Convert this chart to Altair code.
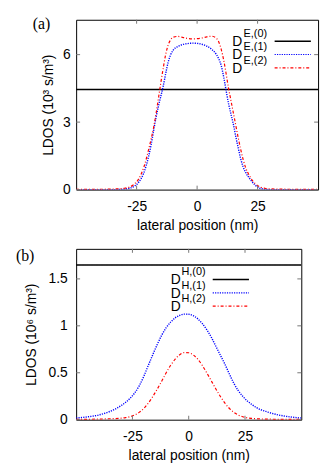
import altair as alt
import pandas as pd

# ---------------- data ----------------
x_a = [-50, -45, -40, -35, -32, -30, -28, -26, -24, -22, -20, -19, -18, -17, -16, -15, -14, -13, -12, -11, -10,
       -8, -6, -4, -2, 0, 2, 4, 6, 8, 9, 10, 11, 12, 13, 14, 15, 16, 17, 18, 19, 20, 22, 24, 26, 28, 30, 35, 40, 45, 50]
DE1 = [0.0, 0.0, 0.0, 0.0, 0.005, 0.02, 0.06, 0.15, 0.35, 0.75, 1.5, 2.0, 2.6, 3.2, 3.7, 4.15, 4.6, 5.15, 5.65, 5.98, 6.18,
       6.36, 6.45, 6.49, 6.51, 6.5, 6.46, 6.38, 6.24, 6.0, 5.8, 5.5, 5.0, 4.4, 3.82, 3.35, 2.9, 2.35, 1.85, 1.38, 1.02, 0.78,
       0.45, 0.2, 0.06, 0.015, 0.0, 0.0, 0.0, 0.0, 0.0]
DE2 = [0.01, 0.01, 0.015, 0.025, 0.04, 0.06, 0.11, 0.24, 0.5, 1.0, 1.8, 2.25, 2.75, 3.35, 4.05, 4.75, 5.4, 6.0, 6.42, 6.65, 6.77,
       6.81, 6.77, 6.72, 6.70, 6.71, 6.74, 6.79, 6.82, 6.72, 6.55, 6.22, 5.75, 5.15, 4.5, 3.95, 3.4, 2.85, 2.3, 1.8, 1.35, 1.0,
       0.55, 0.27, 0.12, 0.06, 0.035, 0.02, 0.015, 0.01, 0.01]
DE0 = 4.45

x_b = [-50, -45, -40, -35, -30, -28, -26, -24, -22, -20, -18, -16, -14, -12, -10, -8, -6, -4, -2, 0,
       2, 4, 6, 8, 10, 12, 14, 16, 18, 20, 22, 24, 26, 28, 30, 35, 40, 45, 50]
DH1 = [0.018, 0.03, 0.05, 0.088, 0.15, 0.185, 0.23, 0.285, 0.36, 0.46, 0.575, 0.69, 0.8, 0.9, 0.98, 1.04, 1.085, 1.112, 1.125, 1.123,
       1.108, 1.075, 1.025, 0.96, 0.88, 0.785, 0.69, 0.595, 0.49, 0.39, 0.31, 0.25, 0.2, 0.162, 0.13, 0.082, 0.05, 0.03, 0.018]
DH2 = [0.003, 0.004, 0.006, 0.01, 0.016, 0.022, 0.032, 0.05, 0.078, 0.118, 0.175, 0.245, 0.325, 0.41, 0.5, 0.58, 0.645, 0.692, 0.715, 0.713,
       0.69, 0.645, 0.58, 0.5, 0.415, 0.33, 0.25, 0.18, 0.122, 0.08, 0.05, 0.032, 0.02, 0.014, 0.01, 0.006, 0.004, 0.003, 0.003]
DH0 = 1.648

x_ends = [-50, 50]
xticks = [-25, 0, 25]
yticks_a = [0, 3, 6]
yticks_b = [0, 0.5, 1, 1.5]

series = ["0", "1", "2"]
colors = ["#000000", "#0000ff", "#ff0000"]
dashes = [[1, 0], [1.2, 1.2], [3, 2, 1, 2]]
widths = [1.6, 1.2, 1.2]

FONT = "Liberation Sans"


def long_df(c0, xs1, s1, s2):
    rows = [{"x": x, "v": c0, "s": "0"} for x in x_ends]
    rows += [{"x": x, "v": v, "s": "1"} for x, v in zip(xs1, s1)]
    rows += [{"x": x, "v": v, "s": "2"} for x, v in zip(xs1, s2)]
    return pd.DataFrame(rows)


def panel(df, W, H, ymax, yticks, ytitle, title_x, ylab_pad, tag, tag_x, tag_y,
          sup, dx_D, dx_S, lx1, lx2, ly0):
    xs = alt.Scale(domain=[-50, 50], nice=False, zero=False)
    ys = alt.Scale(domain=[0, ymax], nice=False, zero=False)
    xax = alt.Axis(values=xticks, title="lateral position (nm)", labelExpr="toString(datum.value)",
                   labelPadding=10, tickSize=0, titleY=40, titleBaseline="alphabetic")
    yax = alt.Axis(values=yticks, title=ytitle, labelExpr="toString(datum.value)",
                   labelPadding=ylab_pad, tickSize=0, titleAngle=270, titleX=title_x, titleY=H / 2,
                   titleBaseline="alphabetic", titleAlign="center")
    lines = alt.Chart(df).mark_line(interpolate="monotone", clip=True).encode(
        x=alt.X("x:Q", scale=xs, axis=xax, title="lateral position (nm)"),
        y=alt.Y("v:Q", scale=ys, axis=yax, title=ytitle),
        color=alt.Color("s:N", scale=alt.Scale(domain=series, range=colors), legend=None),
        strokeDash=alt.StrokeDash("s:N", scale=alt.Scale(domain=series, range=dashes), legend=None),
        strokeWidth=alt.StrokeWidth("s:N", scale=alt.Scale(domain=series, range=widths), legend=None),
    )
    tdx = pd.DataFrame({"x": xticks})
    tdy = pd.DataFrame({"v": yticks})
    tk = dict(color="#777777", strokeWidth=1)
    bt = alt.Chart(tdx).mark_rule(**tk).encode(
        x=alt.X("x:Q", scale=xs, axis=xax, title="lateral position (nm)"), y=alt.value(H), y2=alt.value(H - 4))
    tt = alt.Chart(tdx).mark_rule(**tk).encode(
        x=alt.X("x:Q", scale=xs, axis=xax, title="lateral position (nm)"), y=alt.value(0), y2=alt.value(4))
    lt = alt.Chart(tdy).mark_rule(**tk).encode(
        y=alt.Y("v:Q", scale=ys, axis=yax, title=ytitle), x=alt.value(0), x2=alt.value(4))
    rt = alt.Chart(tdy).mark_rule(**tk).encode(
        y=alt.Y("v:Q", scale=ys, axis=yax, title=ytitle), x=alt.value(W), x2=alt.value(W - 4))

    one = pd.DataFrame({"k": [0]})
    legend = []
    for i in range(3):
        ly = ly0 + 13.5 * i
        legend.append(alt.Chart(one).mark_rule(color=colors[i], strokeDash=dashes[i], strokeWidth=widths[i]).encode(
            x=alt.value(lx1), x2=alt.value(lx2), y=alt.value(ly)))
        legend.append(alt.Chart(one).mark_text(text="D", align="left", baseline="alphabetic", fontSize=14,
                                               font=FONT, color="black").encode(
            x=alt.value(dx_D), y=alt.value(ly + 4.8)))
        legend.append(alt.Chart(one).mark_text(text=f"{sup},({i})", align="left", baseline="alphabetic", fontSize=11,
                                               font=FONT, color="black").encode(
            x=alt.value(dx_S), y=alt.value(ly - 4.2)))
    tagm = alt.Chart(one).mark_text(text=tag, align="left", baseline="middle", fontSize=16,
                                    font="Liberation Serif", color="black").encode(
        x=alt.value(tag_x), y=alt.value(tag_y))
    return alt.layer(lines, bt, tt, lt, rt, *legend, tagm).properties(width=W, height=H)


df_a = long_df(DE0, x_a, DE1, DE2)
df_b = long_df(DH0, x_b, DH1, DH2)

pa = panel(df_a, 245, 172, 7.55, yticks_a, "LDOS (10³ s/m³)", -24, 6, "(a)", -44, 4,
           "E", 158, 169.5, 201, 237.7, 21.7)
pb = panel(df_b, 228, 173, 1.82, yticks_b, "LDOS (10⁶ s/m³)", -41, 9, "(b)", -61, 7,
           "H", 95.7, 106.7, 138.3, 175, 31)

chart = alt.concat(pa, pb, columns=1, spacing=14, align="none").properties(
    padding={"left": 7, "top": 4, "right": 5, "bottom": 2}
).configure_view(stroke="black", strokeWidth=1).configure_axis(
    domain=False, ticks=False, grid=False, tickSize=0,
    labelFont=FONT, labelFontSize=14, labelColor="black",
    titleFont=FONT, titleFontSize=14, titleFontWeight="normal", titleColor="black"
)

chart.save("out.html", embed_options={"renderer": "svg", "actions": False})
